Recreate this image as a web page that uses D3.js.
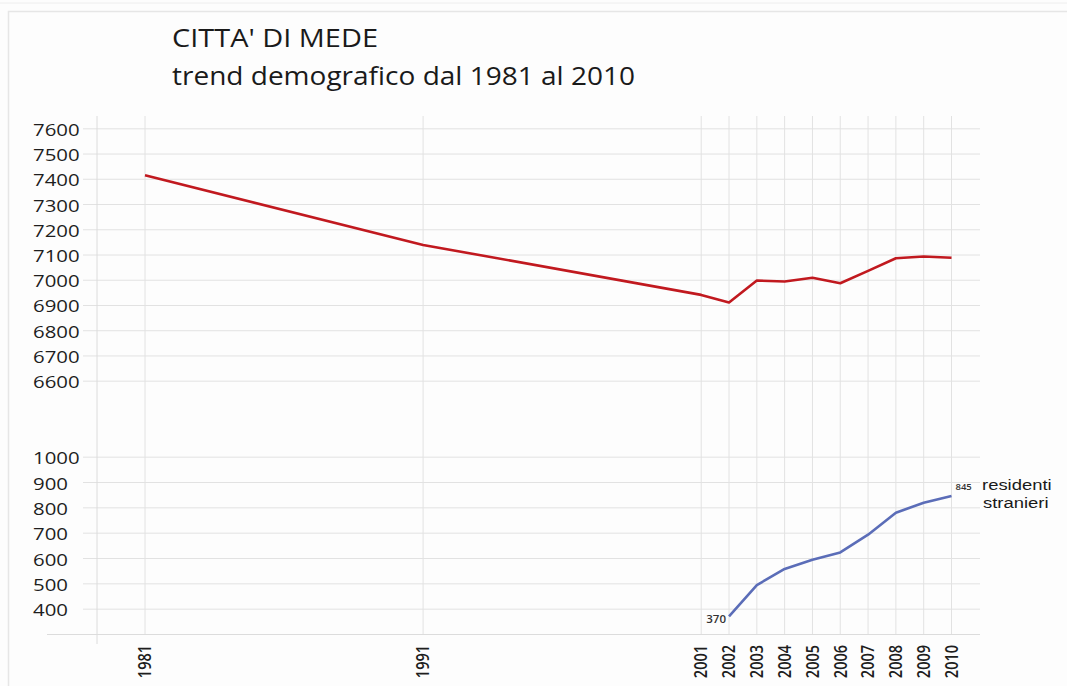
<!DOCTYPE html>
<html>
<head>
<meta charset="utf-8">
<script src="https://cdn.jsdelivr.net/npm/d3@7"></script>
<style>
  html, body { margin: 0; padding: 0; background: #fdfdfd; }
  svg { display: block; font-family: "Open Sans", "Noto Sans", sans-serif; }
</style>
</head>
<body>
<svg id="chart" width="1067" height="686"></svg>
<script>
// ---- data ----
const yearsTotal = [1981, 1991, 2001, 2002, 2003, 2004, 2005, 2006, 2007, 2008, 2009, 2010];
const residentiTotali = [7414, 7138, 6940, 6910, 6997, 6993, 7008, 6986, 7035, 7085, 7092, 7087];
const yearsStranieri = [2002, 2003, 2004, 2005, 2006, 2007, 2008, 2009, 2010];
const residentiStranieri = [370, 493, 557, 593, 622, 692, 779, 818, 845];
const xTickYears = [1981, 1991, 2001, 2002, 2003, 2004, 2005, 2006, 2007, 2008, 2009, 2010];
const yTicksTop = [6600, 6700, 6800, 6900, 7000, 7100, 7200, 7300, 7400, 7500, 7600];
const yTicksBottom = [400, 500, 600, 700, 800, 900, 1000];
const titleText = "CITTA' DI MEDE";
const subtitleText = "trend demografico dal 1981 al 2010";
const seriesLabel = ["residenti", "stranieri"];

// ---- layout ----
const svg = d3.select("#chart");
const gridLeft = 83, gridRight = 980, axisLeft = 47, yAxisX = 97;
const x = d3.scaleLinear().domain([1981, 2010]).range([145, 951.5]);
const yTop = d3.scaleLinear().domain([6600, 7600]).range([380.7, 128.3]);
const yBot = d3.scaleLinear().domain([300, 1000]).range([634, 456.7]);
const gridColor = "#e2e2e2";
const red = "#c1191f", blue = "#5b6db8";

// frame
svg.append("line").attr("x1", 0).attr("x2", 1067).attr("y1", 3).attr("y2", 3)
  .attr("stroke", "#eeeeee").attr("stroke-width", 1);
svg.append("path").attr("d", "M8.5,690 V11.5 H1070")
  .attr("fill", "none").attr("stroke", "#e6e6e6").attr("stroke-width", 1.5);

// title
svg.append("text").attr("x", 172).attr("y", 47).attr("font-size", 25)
  .attr("fill", "#1a1a1a").attr("textLength", 206).attr("lengthAdjust", "spacingAndGlyphs")
  .text(titleText);
svg.append("text").attr("x", 172).attr("y", 85).attr("font-size", 26)
  .attr("fill", "#1a1a1a").attr("textLength", 463).attr("lengthAdjust", "spacingAndGlyphs")
  .text(subtitleText);

// horizontal gridlines
const grid = svg.append("g");
grid.selectAll("line.ht").data(yTicksTop).join("line")
  .attr("x1", gridLeft).attr("x2", gridRight)
  .attr("y1", d => yTop(d) + 0.5).attr("y2", d => yTop(d) + 0.5)
  .attr("stroke", gridColor).attr("stroke-width", 1);
grid.selectAll("line.hb").data(yTicksBottom).join("line")
  .attr("x1", gridLeft).attr("x2", gridRight)
  .attr("y1", d => yBot(d) + 0.5).attr("y2", d => yBot(d) + 0.5)
  .attr("stroke", gridColor).attr("stroke-width", 1);
// vertical gridlines
grid.selectAll("line.v").data(xTickYears).join("line")
  .attr("x1", d => x(d)).attr("x2", d => x(d))
  .attr("y1", 116).attr("y2", yBot(300))
  .attr("stroke", gridColor).attr("stroke-width", 1);
// left axis line and bottom axis line
grid.append("line").attr("x1", yAxisX).attr("x2", yAxisX).attr("y1", 116).attr("y2", 644)
  .attr("stroke", "#dcdcdc").attr("stroke-width", 1);
grid.append("line").attr("x1", axisLeft).attr("x2", gridRight)
  .attr("y1", yBot(300) + 0.5).attr("y2", yBot(300) + 0.5)
  .attr("stroke", "#dcdcdc").attr("stroke-width", 1);

// y tick labels
const yl = svg.append("g").attr("fill", "#1e1e1e").attr("font-size", 17).attr("font-weight", 500);
yl.selectAll("text.t").data(yTicksTop).join("text")
  .attr("transform", d => `translate(33,${yTop(d) + 7.5}) scale(1.2,1)`)
  .text(d => d);
yl.selectAll("text.b").data(yTicksBottom).join("text")
  .attr("transform", d => `translate(33,${yBot(d) + 7.5}) scale(1.2,1)`)
  .text(d => d);

// x tick labels
svg.append("g").attr("fill", "#1e1e1e").attr("font-size", 14.5).attr("font-weight", 600)
  .selectAll("text").data(xTickYears).join("text")
  .attr("transform", d => `translate(${x(d)},645) scale(1.2,1) rotate(-90)`)
  .attr("text-anchor", "end").attr("dy", "0.36em")
  .text(d => d);

// lines
const lineTot = d3.line().x((d, i) => x(yearsTotal[i])).y(d => yTop(d));
svg.append("path").datum(residentiTotali).attr("d", lineTot)
  .attr("fill", "none").attr("stroke", red).attr("stroke-width", 2.6)
  .attr("stroke-linejoin", "round");
const lineStr = d3.line().x((d, i) => x(yearsStranieri[i])).y(d => yBot(d));
svg.append("path").datum(residentiStranieri).attr("d", lineStr)
  .attr("fill", "none").attr("stroke", blue).attr("stroke-width", 2.6)
  .attr("stroke-linejoin", "round");

// annotations
const first = residentiStranieri[0], last = residentiStranieri[residentiStranieri.length - 1];
svg.append("text").attr("x", x(yearsStranieri[0]) - 3).attr("y", yBot(first) + 7)
  .attr("text-anchor", "end").attr("font-size", 11.5).attr("font-weight", 600)
  .attr("fill", "#333").text(first);
svg.append("text").attr("x", x(2010) + 4).attr("y", yBot(last) - 6)
  .attr("font-size", 9.5).attr("font-weight", 600).attr("fill", "#333").text(last);
const lblG = svg.append("g").attr("font-family", "'Liberation Sans', Arial, sans-serif")
  .attr("font-size", 15.5).attr("fill", "#1a1a1a");
lblG.append("text").attr("transform", `translate(982,${yBot(last) - 5.5}) scale(1.19,1)`)
  .text(seriesLabel[0]);
lblG.append("text").attr("transform", `translate(983,${yBot(last) + 12}) scale(1.19,1)`)
  .text(seriesLabel[1]);
</script>
</body>
</html>
